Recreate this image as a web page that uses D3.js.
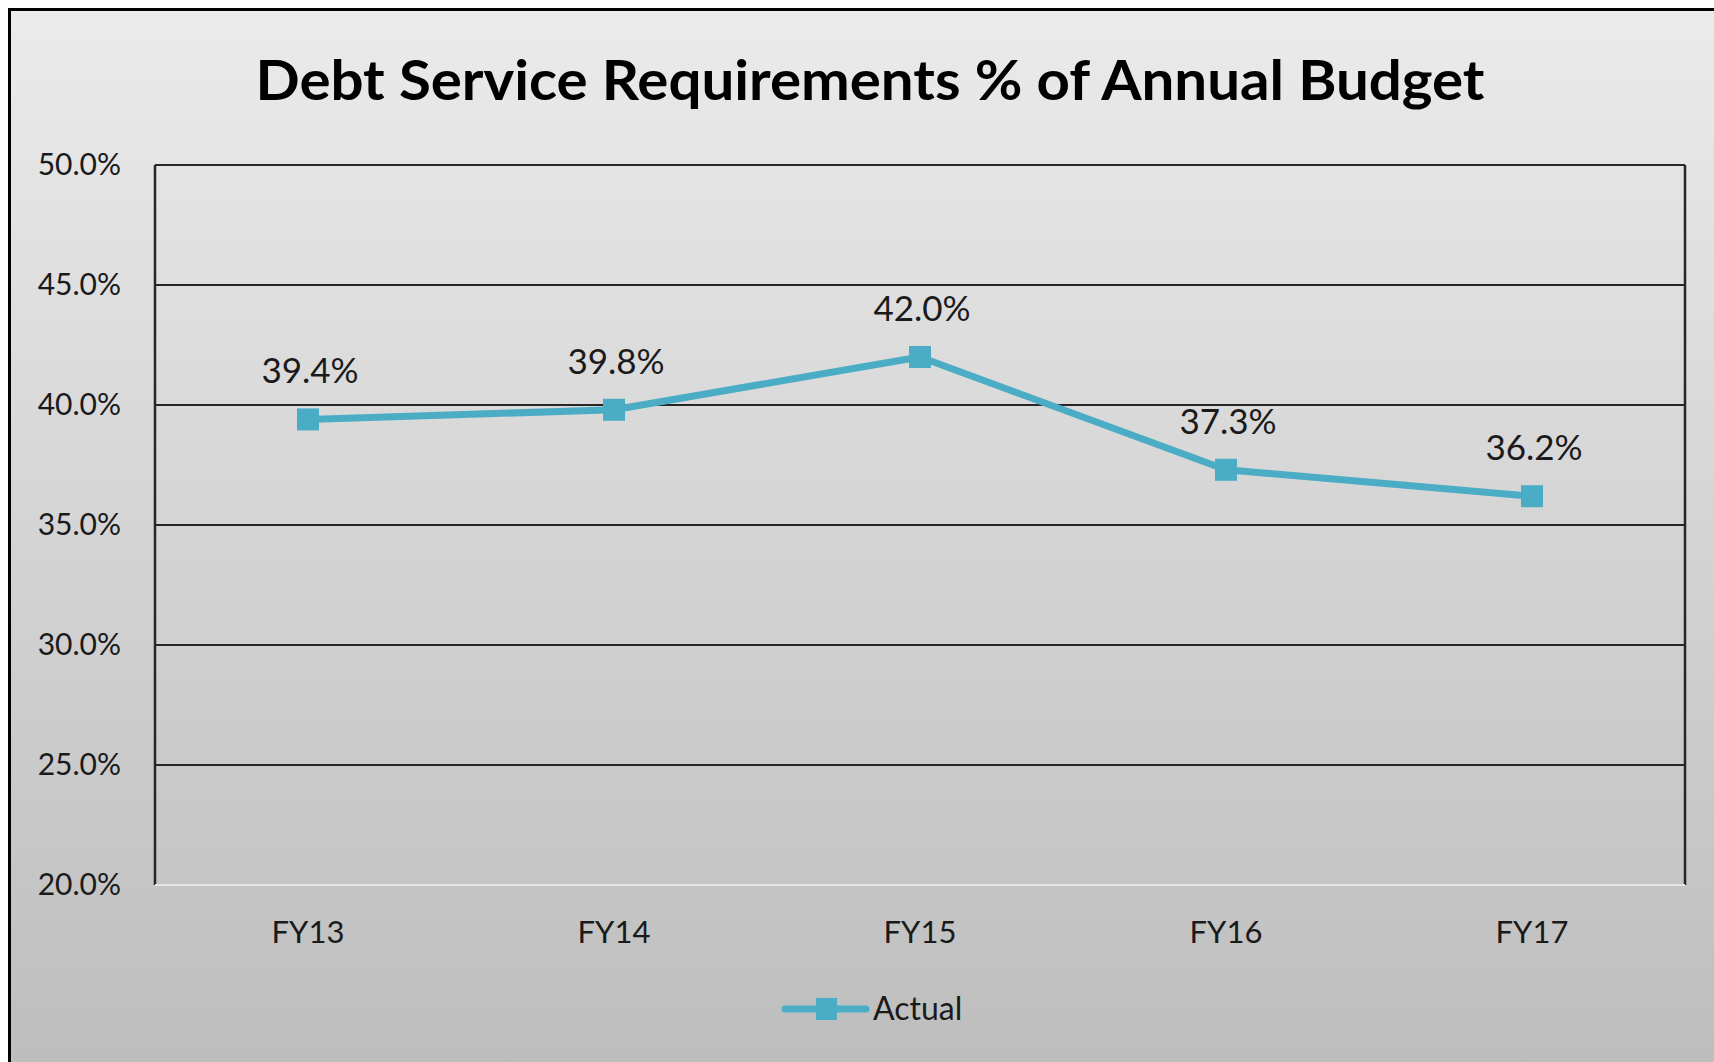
<!DOCTYPE html>
<html>
<head>
<meta charset="utf-8">
<script src="https://cdn.jsdelivr.net/npm/d3@7"></script>
<style>
  html, body { margin: 0; padding: 0; background: #ffffff; }
  svg { display: block; }
  text { font-family: Lato, "Open Sans", sans-serif; fill: #1a1a1a; }
</style>
</head>
<body>
<svg id="chart" width="1714" height="1062"></svg>
<script>
const title = "Debt Service Requirements % of Annual Budget";
const categories = ["FY13", "FY14", "FY15", "FY16", "FY17"];
const actualValues = [39.4, 39.8, 42.0, 37.3, 36.2];
const yTicks = [20, 25, 30, 35, 40, 45, 50];
const seriesName = "Actual";

const W = 1714, H = 1062;
const plot = { left: 155, right: 1685, top: 165, bottom: 885 };
const lineColor = "#4BACC6";

const svg = d3.select("#chart");

const defs = svg.append("defs");
const grad = defs.append("linearGradient").attr("id", "bg").attr("x1", 0).attr("y1", 0).attr("x2", 0).attr("y2", 1);
grad.append("stop").attr("offset", "0%").attr("stop-color", "#ebebeb");
grad.append("stop").attr("offset", "100%").attr("stop-color", "#bcbcbc");

// chart area background + frame
svg.append("rect").attr("x", 9.5).attr("y", 9.5).attr("width", W + 20).attr("height", H + 20)
  .attr("fill", "url(#bg)").attr("stroke", "#000").attr("stroke-width", 3);

// title
svg.append("text").attr("x", 870).attr("y", 100).attr("text-anchor", "middle")
  .attr("textLength", 1229).attr("lengthAdjust", "spacingAndGlyphs")
  .style("font-weight", 700).style("font-size", "55px").style("fill", "#000").text(title);

const x = d3.scaleBand().domain(categories).range([plot.left, plot.right]).padding(0);
const y = d3.scaleLinear().domain([20, 50]).range([plot.bottom, plot.top]);
const cx = d => x(d) + x.bandwidth() / 2;

// gridlines
svg.append("g").selectAll("line").data(yTicks.filter(t => t > 20)).join("line")
  .attr("x1", plot.left).attr("x2", plot.right)
  .attr("y1", d => y(d)).attr("y2", d => y(d))
  .attr("stroke", "#262626").attr("stroke-width", 2);

// plot left & right borders
svg.append("line").attr("x1", plot.left).attr("x2", plot.left).attr("y1", plot.top).attr("y2", plot.bottom)
  .attr("stroke", "#262626").attr("stroke-width", 2.5);
svg.append("line").attr("x1", plot.right).attr("x2", plot.right).attr("y1", plot.top).attr("y2", plot.bottom)
  .attr("stroke", "#262626").attr("stroke-width", 2.5);
// x axis line (light)
svg.append("line").attr("x1", plot.left).attr("x2", plot.right).attr("y1", plot.bottom).attr("y2", plot.bottom)
  .attr("stroke", "#e6e6e6").attr("stroke-width", 2);

// y axis labels
const yAxis = d3.axisLeft(y).tickValues(yTicks).tickSize(0).tickPadding(34)
  .tickFormat(d => d3.format(".1f")(d) + "%");
const gy = svg.append("g").attr("transform", `translate(${plot.left},0)`).call(yAxis);
gy.select(".domain").remove();
gy.selectAll("text").style("font-size", "30px").style("font-family", "Lato, 'Open Sans', sans-serif").attr("fill", "#1a1a1a");

// x axis labels
const xAxis = d3.axisBottom(x).tickSize(0).tickPadding(0);
const gx = svg.append("g").attr("transform", `translate(0,${plot.bottom})`).call(xAxis);
gx.select(".domain").remove();
gx.selectAll("text").attr("y", 58).attr("dy", null).style("font-size", "31px")
  .style("font-family", "Lato, 'Open Sans', sans-serif").attr("fill", "#1a1a1a");

// line
const line = d3.line().x((d, i) => cx(categories[i])).y(d => y(d));
svg.append("path").datum(actualValues).attr("d", line)
  .attr("fill", "none").attr("stroke", lineColor).attr("stroke-width", 7).attr("stroke-linejoin", "round");

// markers
const ms = 22;
svg.append("g").selectAll("rect").data(actualValues).join("rect")
  .attr("x", (d, i) => cx(categories[i]) - ms / 2).attr("y", d => y(d) - ms / 2)
  .attr("width", ms).attr("height", ms).attr("fill", lineColor);

// data labels
svg.append("g").selectAll("text").data(actualValues).join("text")
  .attr("x", (d, i) => cx(categories[i]) + 2).attr("y", d => y(d) - 36)
  .attr("text-anchor", "middle").style("font-size", "35px")
  .text(d => d3.format(".1f")(d) + "%");

// legend
const lg = svg.append("g");
lg.append("line").attr("x1", 785).attr("x2", 866).attr("y1", 1009).attr("y2", 1009)
  .attr("stroke", lineColor).attr("stroke-width", 7).attr("stroke-linecap", "round");
lg.append("rect").attr("x", 826 - 10).attr("y", 1009 - 11).attr("width", 21).attr("height", 22).attr("fill", lineColor);
lg.append("text").attr("x", 873).attr("y", 1020).style("font-size", "32px").text(seriesName);
</script>
</body>
</html>
